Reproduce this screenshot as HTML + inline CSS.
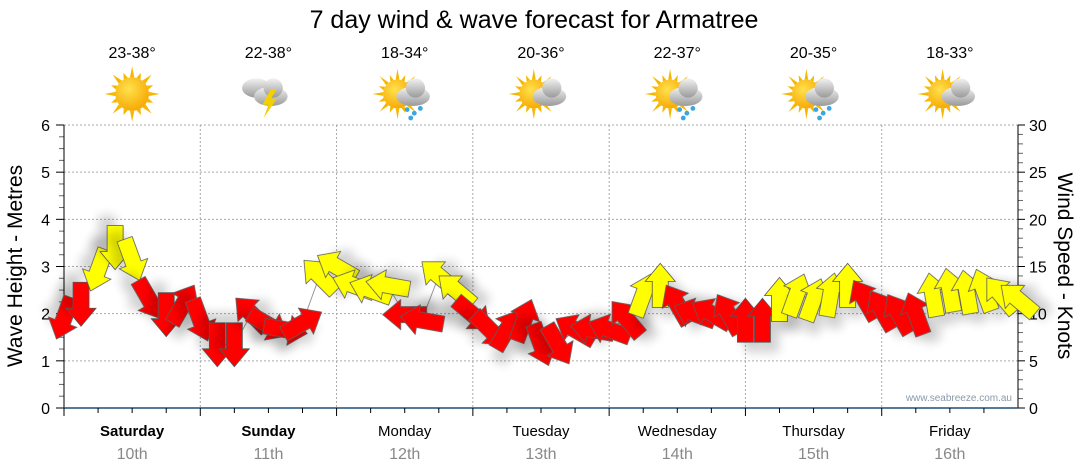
<!DOCTYPE html>
<html><head><meta charset="utf-8">
<style>
html,body{margin:0;padding:0;background:#fff;}
svg{display:block;font-family:"Liberation Sans",sans-serif;}
</style></head>
<body>
<svg id="chart" width="1080" height="475" viewBox="0 0 1080 475" xmlns="http://www.w3.org/2000/svg">
<defs>
<filter id="sh" x="-60%" y="-60%" width="220%" height="220%"><feGaussianBlur in="SourceAlpha" stdDeviation="5"/><feOffset dx="8" dy="10"/><feComponentTransfer><feFuncA type="linear" slope="0.18"/></feComponentTransfer><feMerge><feMergeNode/><feMergeNode in="SourceGraphic"/></feMerge></filter>
<radialGradient id="sun" cx="0.4" cy="0.35" r="0.7"><stop offset="0" stop-color="#ffe14d"/><stop offset="1" stop-color="#f7a600"/></radialGradient>
<linearGradient id="cloud" x1="0" y1="0" x2="0" y2="1"><stop offset="0" stop-color="#f2f2f2"/><stop offset="1" stop-color="#9a9a9a"/></linearGradient>
</defs>
<text x="534" y="28" font-size="25" text-anchor="middle" fill="#000">7 day wind &amp; wave forecast for Armatree</text>
<g id="grid"></g>
<g id="axes"></g>
<g id="icons"></g>
<g id="series"></g>
<text transform="translate(22,266) rotate(-90)" font-size="21" text-anchor="middle">Wave Height - Metres</text>
<text transform="translate(1058,266) rotate(90)" font-size="21" text-anchor="middle">Wind Speed - Knots</text>
<text x="1012" y="401" font-size="10" text-anchor="end" fill="#8a9aaa">www.seabreeze.com.au</text>
</svg>
<script>
const days = ["Saturday","Sunday","Monday","Tuesday","Wednesday","Thursday","Friday"];
const dates = ["10th","11th","12th","13th","14th","15th","16th"];
const temps = ["23-38°","22-38°","18-34°","20-36°","22-37°","20-35°","18-33°"];
const weather = ["sun","storm","sunrain","suncloud","sunrain","sunrain","suncloud"];
const waveTicks = [0,1,2,3,4,5,6];
const windTicks = [0,5,10,15,20,25,30];
// wind speed (knots) every 3 hours
const windSpeed = [9.5,11,14.6,17,15.7,11.5,9.9,11,
 9.3,6.7,6.7,10,8.8,8.3,9,14,
 15,13,12.5,13,9.9,9.3,14,12.5,
 9.9,8.3,8.3,9.3,6.7,6.7,8.3,8.3,
 8.3,9.5,12,13,11,10,10,10,
 9.3,9.3,11.5,12,11.5,12,13,11.5,
 10.4,10,10,12,12.5,12.3,12.5,12,11.5];
// direction arrow points (degrees, 0 = up)
const windDir = [200,180,200,180,160,150,180,30,
 160,180,180,315,120,100,60,315,
 300,290,290,280,270,280,310,310,
 130,135,30,20,160,150,300,280,
 290,320,20,0,330,290,300,330,
 0,0,0,20,20,10,0,330,
 330,330,340,350,350,350,340,320,310];
const strong = [0,0,1,1,1,0,0,0, 0,0,0,0,0,0,0,1, 1,1,1,1,0,0,1,1, 0,0,0,0,0,0,0,0, 0,0,1,1,0,0,0,0, 0,0,1,1,1,1,1,0, 0,0,0,1,1,1,1,1,1];

const X0=64, X1=1018, Y0=408, Y6=125;
const stepsPerDay=8, nDays=7;
const xPos = i => X0 + (X1-X0)*i/(stepsPerDay*nDays);
const yWave = v => Y0 - (Y0-Y6)*v/6;
const yWind = v => Y0 - (Y0-Y6)*v/30;
const NS="http://www.w3.org/2000/svg";
function mk(tag, attrs, parent){const e=document.createElementNS(NS,tag);for(const k in attrs)e.setAttribute(k,attrs[k]);parent.appendChild(e);return e;}
const grid=document.getElementById('grid'), axes=document.getElementById('axes'), icons=document.getElementById('icons'), series=document.getElementById('series');

waveTicks.forEach(v=>{
  if(v>0){const l=mk('line',{x1:X0,x2:X1,y1:yWave(v),y2:yWave(v),stroke:'#aaa','stroke-dasharray':'2,2'},grid);
  
  }
  const t=mk('text',{x:50,y:yWave(v)+6,'font-size':16,'text-anchor':'end',fill:'#000'},axes);t.textContent=v;
  
  
  mk('line',{x1:X0-8,x2:X0,y1:yWave(v),y2:yWave(v),stroke:'#000'},axes);
  if(v<6) for(let m=1;m<4;m++) mk('line',{x1:X0-5,x2:X0,y1:yWave(v+m/4),y2:yWave(v+m/4),stroke:'#666'},axes);
});
windTicks.forEach(v=>{
  const t=mk('text',{x:1029,y:yWind(v)+6,'font-size':16,fill:'#000'},axes);t.textContent=v;
  
  
  mk('line',{x1:X1,x2:X1+7,y1:yWind(v),y2:yWind(v),stroke:'#000'},axes);
});
for(let k=1;k<30;k++) if(k%5) mk('line',{x1:X1,x2:X1+5,y1:yWind(k),y2:yWind(k),stroke:'#666'},axes);
mk('line',{x1:X0,x2:X0,y1:Y6,y2:Y0,stroke:'#000'},axes);
mk('line',{x1:X1,x2:X1,y1:Y6,y2:Y0,stroke:'#000'},axes);
mk('line',{x1:X0,x2:X1,y1:Y0,y2:Y0,stroke:'#1f4e79','stroke-width':1.5},axes);

const dayW=(X1-X0)/nDays;
days.forEach((d,i)=>{
  const xs=X0+dayW*i, xc=xs+dayW/2;
  if(i>0){const l=mk('line',{x1:xs,x2:xs,y1:Y6,y2:Y0,stroke:'#aaa','stroke-dasharray':'2,2'},grid);
  
  }
  mk('line',{x1:xs,x2:xs,y1:Y0,y2:Y0+8,stroke:'#000'},axes);
  for(let q=1;q<4;q++) mk('line',{x1:xs+dayW*q/4,x2:xs+dayW*q/4,y1:Y0,y2:Y0+5,stroke:'#000'},axes);
  const t=mk('text',{x:xc,y:436,'font-size':15,'text-anchor':'middle','font-weight':i<2?'bold':'normal'},axes);t.textContent=d;
  
  
  const t2=mk('text',{x:xc,y:459,'font-size':16,'text-anchor':'middle',fill:'#888'},axes);t2.textContent=dates[i];
  
  
  const t3=mk('text',{x:xc,y:58,'font-size':16,'text-anchor':'middle'},icons);t3.textContent=temps[i];
  
  
  const g=mk('g',{transform:`translate(${xc},94) scale(1.2)`},icons);
  
  
  const w=weather[i];
  if(w!=='storm'){
    const sx=w==='sun'?0:-6, r=w==='sun'?14:12;
    for(let a=0;a<16;a++){const ang=a*Math.PI/8, L=a%2?r+5:r+9;
      mk('polygon',{points:`${sx+Math.cos(ang-0.13)*r},${Math.sin(ang-0.13)*r} ${sx+Math.cos(ang)*L},${Math.sin(ang)*L} ${sx+Math.cos(ang+0.13)*r},${Math.sin(ang+0.13)*r}`,fill:'#f5b800'},g);}
    mk('circle',{cx:sx,cy:0,r:r,fill:'url(#sun)'},g);
  }
  if(w!=='sun'){
    const cx=w==='storm'?2:7;
    if(w==='storm'){mk('ellipse',{cx:-10,cy:-5,rx:12,ry:8,fill:'url(#cloud)'},g);}
    mk('ellipse',{cx:cx,cy:2,rx:14,ry:8,fill:'url(#cloud)'},g);
    mk('circle',{cx:cx+2,cy:-5,r:8,fill:'url(#cloud)'},g);
    if(w==='storm') mk('polygon',{points:'2,-4 -5,9 0,9 -4,20 7,4 2,4 7,-4',fill:'#f5d000'},g);
    if(w==='sunrain'){[[0,13],[6,16],[11,12],[3,20]].forEach(p=>mk('circle',{cx:cx+p[0]-5,cy:p[1],r:2,fill:'#3aa7e0'},g));}
  }
});

// connecting line
const pts=windSpeed.map((v,i)=>`${xPos(i)},${yWind(v)}`).join(' ');
const pl=mk('polyline',{points:pts,fill:'none',stroke:'#999','stroke-width':1},series);



const arrowPts='0,-22 15,-4 8,-4 8,22 -8,22 -8,-4 -15,-4';
windSpeed.forEach((v,i)=>{
  const a=mk('polygon',{points:arrowPts,transform:`translate(${xPos(i)},${yWind(v)}) rotate(${windDir[i]})`,fill:strong[i]?'#ffff00':'#ff0000',stroke:'#555','stroke-width':0.8,filter:'url(#sh)'},series);
  
  
});
</script>
</body></html>
